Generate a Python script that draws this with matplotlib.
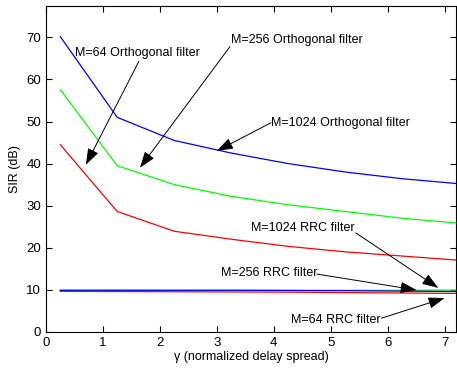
import numpy as np
import matplotlib.pyplot as plt

plt.rcParams['font.family'] = ['Liberation Sans', 'DejaVu Sans']

gamma = [0.25, 1.25, 2.25, 3.25, 4.25, 5.25, 6.25, 7.25]

orth_1024 = [70.2, 51.0, 45.5, 42.5, 40.0, 38.0, 36.4, 35.2]
orth_256 = [57.6, 39.5, 35.0, 32.2, 30.2, 28.6, 27.0, 25.8]
orth_64 = [44.5, 28.6, 23.9, 22.0, 20.3, 19.0, 18.0, 17.0]

rrc_256 = [9.85, 9.85, 9.85, 9.85, 9.85, 9.85, 9.85, 9.9]
rrc_1024 = [9.85, 9.85, 9.85, 9.85, 9.8, 9.75, 9.65, 9.55]
rrc_64 = [9.6, 9.55, 9.5, 9.45, 9.4, 9.3, 9.2, 9.1]

fig = plt.figure(figsize=(4.57, 3.71), dpi=100)
ax = fig.add_axes([0.1007, 0.106, 0.897, 0.878])

lw = 0.9
ax.plot(gamma, orth_1024, color='b', lw=lw)
ax.plot(gamma, orth_256, color='#00ff00', lw=lw)
ax.plot(gamma, orth_64, color='r', lw=lw)
ax.plot(gamma, rrc_64, color='r', lw=lw)
ax.plot(gamma, rrc_256, color='#00ff00', lw=lw)
ax.plot(gamma, rrc_1024, color='b', lw=lw)

ax.set_xlim(0, 7.2)
ax.set_ylim(0, 77.5)
ax.set_xticks(range(0, 8))
ax.set_yticks(range(0, 71, 10))
ax.tick_params(direction='in', top=True, right=True, length=4, labelsize=9.5)
ax.set_xlabel('\u03b3 (normalized delay spread)', fontsize=9, labelpad=2)
ax.set_ylabel('SIR (dB)', fontsize=9)

arrow = dict(arrowstyle='-|>,head_length=1.0,head_width=0.35', color='k', lw=0.7,
             shrinkA=0, shrinkB=0)
fs = 9

def note(label, tip, tail, txt):
    ax.annotate('', xy=tip, xytext=tail, arrowprops=arrow)
    ax.text(txt[0], txt[1], label, fontsize=fs, ha='left', va='center')

note('M=64 Orthogonal filter', (0.70, 39.7), (1.63, 64.3), (0.51, 66.4))
note('M=256 Orthogonal filter', (1.65, 39.0), (3.23, 67.8), (3.25, 69.5))
note('M=1024 Orthogonal filter', (3.0, 43.0), (3.95, 49.7), (3.95, 49.7))
note('M=1024 RRC filter', (6.89, 10.4), (5.44, 23.5), (3.60, 24.7))
note('M=256 RRC filter', (6.51, 9.9), (4.76, 13.7), (3.07, 13.9))
note('M=64 RRC filter', (7.0, 8.0), (5.89, 3.2), (4.30, 2.8))

fig.savefig('out.png', dpi=100)
